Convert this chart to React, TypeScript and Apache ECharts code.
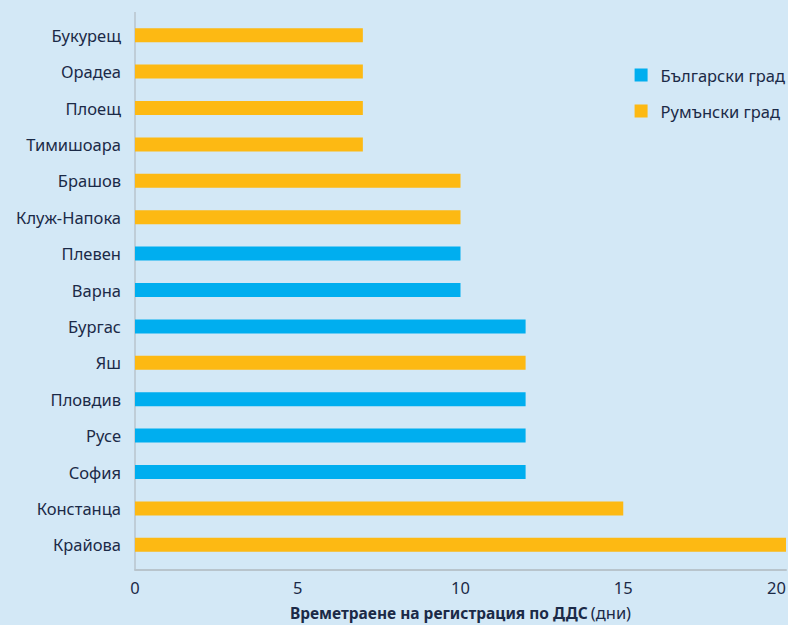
import React, { useEffect, useRef } from "react";
import * as echarts from "echarts";

const cities = [
  "Букурещ", "Орадеа", "Плоещ", "Тимишоара", "Брашов", "Клуж-Напока", "Плевен",
  "Варна", "Бургас", "Яш", "Пловдив", "Русе", "София", "Констанца", "Крайова",
];
const days = [7, 7, 7, 7, 10, 10, 10, 10, 12, 12, 12, 12, 12, 15, 20];
const country = ["RO", "RO", "RO", "RO", "RO", "RO", "BG", "BG", "BG", "RO", "BG", "BG", "BG", "RO", "RO"];
const seriesNames = ["Български град", "Румънски град"];
const xTicks = [0, 5, 10, 15, 20];
const axisTitleBold = "Времетраене на регистрация по ДДС";
const axisTitleUnit = "(дни)";

const BLUE = "#00AEEF";
const ORANGE = "#FDB913";
const BG = "#D3E8F6";
const TEXT = "#1B2A47";
const FONT = "'Noto Sans', 'Open Sans', sans-serif";
const FS = 16.5;

export default function App() {
  const ref = useRef<HTMLDivElement>(null);
  useEffect(() => {
    if (!ref.current) return;
    const chart = echarts.init(ref.current, null, { renderer: "svg" });
    const bg = days.map((d, i) => (country[i] === "BG" ? d : "-"));
    const ro = days.map((d, i) => (country[i] === "RO" ? d : "-"));
    chart.setOption({
      animation: false,
      backgroundColor: BG,
      textStyle: { fontFamily: FONT, color: TEXT },
      legend: {
        orient: "vertical",
        right: 3,
        top: 65,
        padding: 0,
        itemWidth: 13,
        itemHeight: 13,
        itemGap: 16,
        icon: "rect",
        textStyle: { fontFamily: FONT, fontSize: FS, color: TEXT, lineHeight: 20, padding: [0, 0, 0, 8] },
        data: seriesNames,
      },
      grid: { left: 135, right: 2, top: 17, height: 546, containLabel: false, outerBoundsMode: "none" },
      xAxis: {
        type: "value",
        min: xTicks[0],
        max: xTicks[xTicks.length - 1],
        interval: 5,
        offset: 7,
        axisLine: { show: true, lineStyle: { color: "#B8C4CC", width: 2 } },
        axisTick: { show: false },
        splitLine: { show: false },
        axisLabel: { color: TEXT, fontSize: FS, fontFamily: FONT, margin: 9, alignMaxLabel: "right" },
        name: `{b|${axisTitleBold}} {n|${axisTitleUnit}}`,
        nameLocation: "middle",
        nameGap: 34,
        nameTextStyle: {
          rich: {
            b: { fontWeight: "bold", fontSize: 15.5, color: TEXT, fontFamily: FONT },
            n: { fontSize: FS, color: TEXT, fontFamily: FONT },
          },
        },
      },
      yAxis: {
        type: "category",
        data: cities,
        inverse: true,
        axisLine: { show: false },
        axisTick: { show: false },
        axisLabel: { color: TEXT, fontSize: FS, fontFamily: FONT, margin: 14 },
      },
      graphic: [
        {
          type: "line",
          shape: { x1: 135, y1: 12, x2: 135, y2: 570 },
          style: { stroke: "#B8C4CC", lineWidth: 1.5 },
          silent: true,
        },
      ],
      series: [
        {
          name: seriesNames[0],
          type: "bar",
          data: bg,
          barWidth: 14,
          barGap: "-100%",
          itemStyle: { color: BLUE },
        },
        {
          name: seriesNames[1],
          type: "bar",
          data: ro,
          barWidth: 14,
          barGap: "-100%",
          itemStyle: { color: ORANGE },
        },
      ],
    });
    return () => chart.dispose();
  }, []);
  return <div ref={ref} style={{ width: 788, height: 625, position: "absolute", left: 0, top: 0 }} />;
}
